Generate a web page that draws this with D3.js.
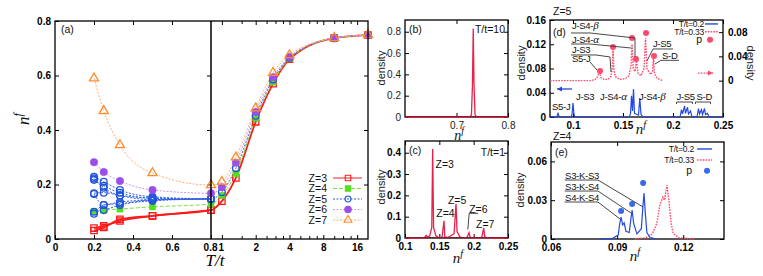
<!DOCTYPE html>
<html>
<head>
<meta charset="utf-8">
<script src="https://cdn.jsdelivr.net/npm/d3@7"></script>
<style>
body { margin: 0; background: #fff; }
svg { font-family: "Liberation Sans", Arial, sans-serif; }
.tk text { font-size: 10px; font-weight: bold; fill: #000; }
.tk.reg text { font-weight: normal; fill: #222; }
.tk line { stroke: #000; stroke-width: 1; }
.lab { font-size: 10.5px; fill: #111; }
.ann { font-size: 9.5px; fill: #111; letter-spacing: -0.3px; }
.leg { font-size: 8.5px; fill: #111; letter-spacing: -0.2px; }
</style>
</head>
<body>
<svg id="fig" width="763" height="276"></svg>
<script>
// ---------- panel (a): n^f against T/t ----------
const temps = [0.2, 0.25, 0.333, 0.5, 0.8, 1, 1.333, 2, 2.857, 4, 10, 20];
const nfZ3 = [0.040, 0.048, 0.066, 0.085, 0.106, 0.139, 0.224, 0.430, 0.570, 0.660, 0.737, 0.748];
const nfZ3low = [0.031, 0.042, 0.072, 0.085, 0.106];
const nfZ4 = [0.100, 0.106, 0.110, 0.118, 0.128, 0.160, 0.240, 0.444, 0.576, 0.662, 0.737, 0.748];
const nfZ5 = [0.168, 0.170, 0.160, 0.150, 0.147, 0.172, 0.260, 0.452, 0.585, 0.665, 0.737, 0.748];
const nfZ5low = [
  [0.228, 0.210, 0.180, 0.155, 0.147],
  [0.217, 0.195, 0.170, 0.150, 0.147],
  [0.222, 0.188, 0.160, 0.145, 0.147],
  [0.165, 0.125, 0.136, 0.143, 0.147],
  [0.100, 0.106, 0.125, 0.140, 0.147],
  [0.093, 0.125, 0.130, 0.143, 0.147]
];
const nfZ6 = [0.282, 0.246, 0.213, 0.180, 0.168, 0.190, 0.280, 0.466, 0.594, 0.668, 0.737, 0.748];
const nfZ7 = [0.590, 0.470, 0.345, 0.242, 0.198, 0.210, 0.300, 0.480, 0.610, 0.675, 0.738, 0.749];
const zLabels = ["Z=3", "Z=4", "Z=5", "Z=6", "Z=7"];
const linTicks = [0, 0.2, 0.4, 0.6];
const logMajor = [0.8, 1, 2, 4, 8, 16];
const logMinor = [1.5, 2.5, 3, 3.5, 5, 6, 7, 10, 12, 14];

// ---------- panel (b): T/t=10 ----------
const densB = [[0.6, 0], [0.726, 0], [0.729, 0.02], [0.731, 0.3], [0.7325, 0.83], [0.734, 0.3], [0.736, 0.02], [0.739, 0], [0.8, 0]];

// ---------- panel (c): T/t=1 ----------
const densC = [[0.1, 0], [0.128, 0], [0.131, 0.012], [0.133, 0.003], [0.136, 0.01], [0.139, 0.05], [0.1403, 0.418],
  [0.1416, 0.05], [0.145, 0.01], [0.148, 0.004], [0.151, 0], [0.154, 0.005], [0.1568, 0.081], [0.158, 0.005],
  [0.163, 0.003], [0.1715, 0.02], [0.1743, 0.16], [0.1758, 0.03], [0.18, 0.004], [0.188, 0], [0.1905, 0.004],
  [0.1932, 0.025], [0.1948, 0.004], [0.199, 0], [0.209, 0], [0.212, 0.005], [0.2146, 0.047], [0.2162, 0.005],
  [0.22, 0], [0.25, 0]];
const peaksC = [["Z=3", 0.1445, 0.345], ["Z=4", 0.1455, 0.115], ["Z=5", 0.1625, 0.177], ["Z=6", 0.1935, 0.136], ["Z=7", 0.2035, 0.066]];

// ---------- panel (d): Z=5 ----------
const densD02 = [[0.077, 0], [0.083, 0], [0.084, 0.0015], [0.085, 0.006], [0.086, 0.0015], [0.087, 0], [0.098, 0],
  [0.099, 0.004], [0.100, 0.023], [0.101, 0.004], [0.102, 0], [0.156, 0], [0.1575, 0.005], [0.1585, 0.035],
  [0.1595, 0.01], [0.1605, 0.046], [0.1615, 0.006], [0.1655, 0.003], [0.1668, 0.031], [0.168, 0.004], [0.170, 0],
  [0.207, 0], [0.2085, 0.012], [0.2095, 0.005], [0.2115, 0.018], [0.2125, 0.006], [0.2145, 0.016], [0.2155, 0.005],
  [0.2175, 0.01], [0.219, 0], [0.224, 0], [0.2255, 0.014], [0.2265, 0.005], [0.2285, 0.012], [0.2295, 0.004],
  [0.2315, 0.014], [0.2325, 0.004], [0.2345, 0.006], [0.236, 0], [0.25, 0]];
const densD033 = [[0.077, 0], [0.118, 0], [0.122, 0.002], [0.124, 0.005], [0.1262, 0.014], [0.128, 0.005],
  [0.131, 0.002], [0.135, 0.002], [0.138, 0.007], [0.1392, 0.02], [0.140, 0.054], [0.1408, 0.02], [0.142, 0.007],
  [0.147, 0.002], [0.152, 0.003], [0.156, 0.008], [0.158, 0.025], [0.159, 0.06], [0.1602, 0.02], [0.162, 0.015],
  [0.1635, 0.033], [0.165, 0.012], [0.168, 0.008], [0.171, 0.02], [0.1725, 0.07], [0.174, 0.02], [0.1775, 0.01],
  [0.1795, 0.015], [0.1805, 0.038], [0.1815, 0.012], [0.184, 0.004], [0.188, 0.001], [0.19, 0]];
const probD = [[0.127, 0.0158], [0.140, 0.0554], [0.159, 0.0703], [0.163, 0.0356], [0.173, 0.0785], [0.181, 0.0406]];

// ---------- panel (e): Z=4 ----------
const densE02 = [[0.082, 0], [0.088, 0.0005], [0.0905, 0.003], [0.0912, 0.012], [0.0918, 0.017], [0.0925, 0.011],
  [0.0932, 0.0125], [0.094, 0.006], [0.0955, 0.005], [0.0962, 0.015], [0.0968, 0.0224], [0.0975, 0.012],
  [0.099, 0.004], [0.101, 0.008], [0.1017, 0.025], [0.1022, 0.0356], [0.1028, 0.02], [0.1035, 0.005],
  [0.105, 0.001], [0.108, 0]];
const densE033 = [[0.098, 0], [0.103, 0.001], [0.106, 0.004], [0.108, 0.012], [0.1095, 0.027], [0.1108, 0.0325],
  [0.1115, 0.03], [0.1126, 0.0417], [0.1135, 0.03], [0.1145, 0.012], [0.1155, 0.004], [0.118, 0.001], [0.125, 0]];
const probE = [[0.0918, 0.0216], [0.0968, 0.0271], [0.1018, 0.0433]];
const labelsE = ["S3-K-S3", "S3-K-S4", "S4-K-S4"];

const svg = d3.select("#fig");

function frame(x, y) {
  const [x0, x1] = x.range(), [y1, y0] = y.range();
  svg.append("rect").attr("x", x0).attr("y", y0).attr("width", x1 - x0).attr("height", y1 - y0)
    .attr("fill", "none").attr("stroke", "#000").attr("stroke-width", 1.3);
}

function axis(gen, tx, ty, cls) {
  const g = svg.append("g").attr("class", cls || "tk").attr("transform", `translate(${tx},${ty})`).call(gen);
  g.select(".domain").remove();
  return g;
}

// ticks on all four sides, labels on the chosen ones
function boxAxes(x, y, xt, yt, opt) {
  opt = opt || {};
  const [x0, x1] = x.range(), [y1, y0] = y.range();
  const cls = opt.reg ? "tk reg" : "tk";
  axis(d3.axisBottom(x).tickValues(xt).tickSize(-4).tickPadding(5).tickFormat(d => d), 0, y1, cls);
  axis(d3.axisTop(x).tickValues(xt).tickSize(-4).tickFormat(""), 0, y0, cls);
  axis(d3.axisLeft(y).tickValues(yt).tickSize(-4).tickPadding(4).tickFormat(d => d), x0, 0, cls);
  if (!opt.noRight) axis(d3.axisRight(y).tickValues(yt).tickSize(-4).tickFormat(""), x1, 0, cls);
  frame(x, y);
}

function nfLabel(x, y, size, rot) {
  const t = svg.append("text").attr("transform", `translate(${x},${y}) rotate(${rot || 0})`)
    .attr("text-anchor", "middle").attr("font-family", "Liberation Serif, serif")
    .attr("font-style", "italic").attr("font-size", size).attr("fill", "#111");
  t.append("tspan").text("n");
  t.append("tspan").attr("dy", -size * 0.4).attr("font-size", size * 0.7).text("f");
}

function text(x, y, s, opt) {
  opt = opt || {};
  return svg.append("text").attr("x", x).attr("y", y).attr("dy", "0.35em")
    .attr("class", opt.cls || "lab").attr("text-anchor", opt.anchor || "start")
    .attr("font-size", opt.size || null).text(s);
}

function density(g, rot) {
  return svg.append("text").attr("transform", `translate(${g[0]},${g[1]}) rotate(${rot})`)
    .attr("text-anchor", "middle").attr("dy", "0.35em").attr("font-size", 11).attr("fill", "#222").text("density");
}

function greekLabel(x, y, base, greek, size) {
  const t = svg.append("text").attr("x", x).attr("y", y).attr("dy", "0.35em").attr("class", "ann")
    .attr("font-size", size || null);
  t.append("tspan").text(base);
  if (greek) t.append("tspan").attr("font-family", "Liberation Serif, serif").attr("font-style", "italic")
    .attr("font-size", 11).text(greek);
}

function curve(data, x, y, color, width, dash) {
  svg.append("path").datum(data)
    .attr("d", d3.line().x(d => x(d[0])).y(d => y(d[1])))
    .attr("fill", "none").attr("stroke", color).attr("stroke-width", width)
    .attr("stroke-dasharray", dash || null);
}

function leader(pts, x, y) {
  svg.append("path").datum(pts)
    .attr("d", d3.line().x(d => x(d[0])).y(d => y(d[1])))
    .attr("fill", "none").attr("stroke", "#333").attr("stroke-width", 0.9);
}

function arrow(x0, x1, yv, color, dash) {
  svg.append("line").attr("x1", x0).attr("x2", x1).attr("y1", yv).attr("y2", yv)
    .attr("stroke", color).attr("stroke-width", 1.3).attr("stroke-dasharray", dash || null);
  const dir = Math.sign(x1 - x0);
  svg.append("path").attr("d", `M${x1},${yv}l${-dir * 5},-2.5l0,5z`).attr("fill", color);
}

// small legend box: line sample for the two temperatures and a dot for p
function tempLegend(x, y, xs, ys, dotColor) {
  const rows = [["T/t=0.2", "#2448e0", null], ["T/t=0.33", "#ff4a6e", "1.6,1.2"]];
  rows.forEach((r, i) => {
    text(x(xs[0]), y(ys[i]), r[0], { anchor: "end", cls: "leg" });
    svg.append("line").attr("x1", x(xs[1])).attr("x2", x(xs[2])).attr("y1", y(ys[i])).attr("y2", y(ys[i]))
      .attr("stroke", r[1]).attr("stroke-width", 1.4).attr("stroke-dasharray", r[2]);
  });
  text(x(xs[0]) - 2, y(ys[2]), "p", { anchor: "end", size: 10 });
  svg.append("circle").attr("cx", x(xs[3])).attr("cy", y(ys[2])).attr("r", 3).attr("fill", dotColor);
}

// ======================= panel (a) =======================
const xLin = d3.scaleLinear().domain([0, 0.8]).range([55, 211]);
const xLog = d3.scaleLog().domain([0.8, 20]).range([211, 368]);
const xA = t => (t <= 0.8 ? xLin(t) : xLog(t));
const yA = d3.scaleLinear().domain([0, 0.8]).range([239, 21]);

const series = [
  { vals: nfZ3, low: [nfZ3low], color: "#ff1a1a", line: "#ff1a1a", width: 1.8, dash: null, sym: d3.symbolSquare, size: 40, fill: "none" },
  { vals: nfZ4, low: [], color: "#55dd22", line: "#7fe044", width: 1, dash: "4,2", sym: d3.symbolSquare, size: 38, fill: "#55dd22" },
  { vals: nfZ5, low: nfZ5low, color: "#2255dd", line: "#2f5fe0", width: 1, dash: "2,1.5", sym: d3.symbolCircle, size: 36, fill: "none" },
  { vals: nfZ6, low: [], color: "#9b4fe8", line: "#c39af2", width: 1, dash: "2,1.5", sym: d3.symbolCircle, size: 44, fill: "#9b4fe8" },
  { vals: nfZ7, low: [], color: "#ff8a2a", line: "#ffb07a", width: 1, dash: "2,1.5", sym: d3.symbolTriangle, size: 36, fill: "none" }
];

axis(d3.axisBottom(xLin).tickValues(linTicks).tickSize(-4).tickPadding(5).tickFormat(d => d), 0, 239);
axis(d3.axisTop(xLin).tickValues(linTicks.slice(1)).tickSize(-4).tickFormat(""), 0, 21);
const logAx = axis(d3.axisBottom(xLog).tickValues(logMajor).tickSize(-4).tickPadding(5).tickFormat(d => d), 0, 239);
// "0.8" and "1" sit side by side, as "0.81"
logAx.selectAll(".tick text").filter(d => d === 0.8).attr("text-anchor", "end").attr("x", 6);
logAx.selectAll(".tick text").filter(d => d === 1).attr("text-anchor", "start").attr("x", -4);
axis(d3.axisBottom(xLog).tickValues(logMinor).tickSize(-3).tickFormat(""), 0, 239);
axis(d3.axisTop(xLog).tickValues(logMajor.slice(1)).tickSize(-4).tickFormat(""), 0, 21);
axis(d3.axisTop(xLog).tickValues(logMinor).tickSize(-3).tickFormat(""), 0, 21);
axis(d3.axisLeft(yA).tickValues([0, 0.2, 0.4, 0.6, 0.8]).tickSize(-4).tickPadding(4).tickFormat(d => d), 55, 0);
axis(d3.axisLeft(yA).tickValues([0.2, 0.4, 0.6]).tickSize(4).tickFormat(""), 211, 0);
axis(d3.axisRight(yA).tickValues([0.2, 0.4, 0.6]).tickSize(-4).tickFormat(""), 368, 0);

const lineA = d3.line().x(d => xA(d[0])).y(d => yA(d[1])).curve(d3.curveMonotoneX);
series.forEach(s => {
  const paths = [s.vals].concat(s.low).map(v => v.map((n, i) => [temps[i], n]));
  paths.forEach(p => {
    svg.append("path").datum(p).attr("d", lineA).attr("fill", "none")
      .attr("stroke", s.line).attr("stroke-width", s.width).attr("stroke-dasharray", s.dash);
  });
});
series.forEach(s => {
  const pts = [s.vals].concat(s.low).flatMap(v => v.map((n, i) => [temps[i], n]));
  svg.append("g").selectAll("path").data(pts).join("path")
    .attr("d", d3.symbol(s.sym, s.size))
    .attr("transform", d => `translate(${xA(d[0])},${yA(d[1])})`)
    .attr("fill", s.fill).attr("stroke", s.color).attr("stroke-width", s.fill === "none" ? 1.3 : 0.5);
});

svg.append("rect").attr("x", 55).attr("y", 21).attr("width", 313).attr("height", 218)
  .attr("fill", "none").attr("stroke", "#000").attr("stroke-width", 1.3);
svg.append("line").attr("x1", xA(0.8)).attr("x2", xA(0.8)).attr("y1", 21).attr("y2", 239)
  .attr("stroke", "#000").attr("stroke-width", 1.5);

// legend
const yLeg = d3.scalePoint().domain(zLabels).range([178, 220]);
series.forEach((s, i) => {
  const yy = yLeg(zLabels[i]);
  text(327, yy, zLabels[i], { anchor: "end", size: 11 });
  svg.append("line").attr("x1", 333).attr("x2", 362).attr("y1", yy).attr("y2", yy)
    .attr("stroke", s.line).attr("stroke-width", 1).attr("stroke-dasharray", s.dash);
  svg.append("path").attr("d", d3.symbol(s.sym, s.size * 0.75)).attr("transform", `translate(348,${yy})`)
    .attr("fill", s.fill).attr("stroke", s.color).attr("stroke-width", 1.1);
});

text(61, 29, "(a)", { size: 12 }).attr("fill", "#1d2a55");
nfLabel(29, 119, 17, -90);
svg.append("text").attr("x", 215).attr("y", 266).attr("text-anchor", "middle")
  .attr("font-family", "Liberation Serif, serif").attr("font-style", "italic").attr("font-size", 17).text("T/t");

// ======================= panel (b) =======================
const xB = d3.scaleLinear().domain([0.6, 0.8]).range([405, 508]);
const yB = d3.scaleLinear().domain([0, 0.91]).range([117, 20]);
boxAxes(xB, yB, [0.7, 0.8], [0, 0.2, 0.4, 0.6, 0.8], { reg: true });
curve(densB, xB, yB, "#e8204a", 1.3);
svg.append("line").attr("x1", 405).attr("x2", 508).attr("y1", 116.5).attr("y2", 116.5).attr("stroke", "#8a1a2a").attr("stroke-width", 1.2);
text(409, 29, "(b)", { size: 11 });
text(505, 29, "T/t=10", { anchor: "end", size: 10 });
density([381, 68], -90);
nfLabel(459, 140, 14);

// ======================= panel (c) =======================
const xC = d3.scaleLinear().domain([0.1, 0.25]).range([405, 508]);
const yC = d3.scaleLinear().domain([0, 0.455]).range([238, 141]);
boxAxes(xC, yC, [0.1, 0.15, 0.2, 0.25], [0, 0.1, 0.2, 0.3, 0.4]);
curve(densC, xC, yC, "#e8204a", 1.3);
svg.append("line").attr("x1", 405).attr("x2", 508).attr("y1", 237.5).attr("y2", 237.5).attr("stroke", "#8a1a2a").attr("stroke-width", 1.2);
peaksC.forEach(p => text(xC(p[1]), yC(p[2]), p[0], { size: 10 }));
leader([[0.2065, 0.116], [0.1935, 0.116], [0.1915, 0.04]], xC, yC);
text(409, 150, "(c)", { size: 11 });
text(505, 152, "T/t=1", { anchor: "end", size: 10 });
density([381, 187], -90);
nfLabel(458, 263, 15);

// ======================= panel (d) =======================
const xD = d3.scaleLinear().domain([0.077, 0.25]).range([550, 723]);
const yDL = d3.scaleLinear().domain([0, 0.16]).range([117, 20]);
const yDR = d3.scaleLinear().domain([-0.06, 0.1]).range([117, 20]);
boxAxes(xD, yDL, [0.1, 0.15, 0.2, 0.25], [0, 0.04, 0.08, 0.12, 0.16], { noRight: true });
axis(d3.axisRight(yDR).tickValues([0, 0.04, 0.08]).tickSize(-4).tickPadding(5).tickFormat(d => d), 723, 0);
curve(densD033, xD, yDR, "#ff4a6e", 1.4, "1.6,1.2");
curve(densD02, xD, yDL, "#2448e0", 1.2);
svg.append("g").selectAll("circle").data(probD).join("circle")
  .attr("cx", d => xD(d[0])).attr("cy", d => yDR(d[1])).attr("r", 3).attr("fill", "#ff4a6e");

// upper labels (T/t=0.33)
greekLabel(xD(0.099), yDL(0.1501), "J-S4-", "β");
greekLabel(xD(0.099), yDL(0.1278), "J-S4-", "α");
greekLabel(xD(0.099), yDL(0.1105), "J-S3");
greekLabel(xD(0.099), yDL(0.0965), "S5-J");
leader([[0.098, 0.1386], [0.117, 0.1386], [0.162, 0.1303], [0.162, 0.099]], xD, yDL);
leader([[0.098, 0.1204], [0.117, 0.1204], [0.158, 0.1138]], xD, yDL);
leader([[0.098, 0.1023], [0.123, 0.1023], [0.137, 0.099], [0.138, 0.0742]], xD, yDL);
leader([[0.117, 0.0907], [0.124, 0.0775]], xD, yDL);
greekLabel(xD(0.18), yDL(0.1205), "J-S5");
leader([[0.2, 0.1122], [0.18, 0.1122], [0.174, 0.0924]], xD, yDL);
greekLabel(xD(0.189), yDL(0.1015), "S-D");
leader([[0.206, 0.0935], [0.188, 0.0935], [0.182, 0.0874]], xD, yDL);

// lower labels (T/t=0.2)
greekLabel(xD(0.079), yDL(0.0165), "S5-J");
greekLabel(xD(0.103), yDL(0.033), "J-S3");
greekLabel(xD(0.127), yDL(0.033), "J-S4-", "α");
greekLabel(xD(0.166), yDL(0.033), "J-S4-", "β");
greekLabel(xD(0.2035), yDL(0.033), "J-S5", null, 9);
greekLabel(xD(0.2235), yDL(0.033), "S-D", null, 9);
leader([[0.2035, 0.0215], [0.2035, 0.0247], [0.2195, 0.0247], [0.2195, 0.0215]], xD, yDL);
leader([[0.2225, 0.0215], [0.2225, 0.0247], [0.2375, 0.0247], [0.2375, 0.0215]], xD, yDL);
arrow(xD(0.099), xD(0.084), yDL(0.0462), "#2448e0");
arrow(xD(0.225), xD(0.240), yDR(0.0125), "#ff4a6e", "1.6,1.2");

tempLegend(xD, yDL, [0.231, 0.232, 0.245, 0.237], [0.1535, 0.1405, 0.1275], "#ff4a6e");

text(553, 32, "(d)", { size: 12 });
text(553, 11, "Z=5", { size: 11 });
density([521, 63], -90);
density([751, 63], 90);
nfLabel(641, 134, 15);

// ======================= panel (e) =======================
const xE = d3.scaleLinear().domain([0.06, 0.1385]).range([551, 724]);
const yE = d3.scaleLinear().domain([0, 0.075]).range([239, 142]);
boxAxes(xE, yE, [0.06, 0.09, 0.12], [0, 0.03, 0.06]);
curve(densE033, xE, yE, "#ff4a6e", 1.4, "1.6,1.2");
curve(densE02, xE, yE, "#2448e0", 1.2);
svg.append("g").selectAll("circle").data(probE).join("circle")
  .attr("cx", d => xE(d[0])).attr("cy", d => yE(d[1])).attr("r", 3).attr("fill", "#3a6ae8");

const labY = [0.0487, 0.0402, 0.0317];
const lineEnds = [[0.1018, 0.0247], [0.0963, 0.0201], [0.0913, 0.0155]];
labelsE.forEach((s, i) => {
  greekLabel(xE(0.0664), yE(labY[i]), s);
  leader([[0.0662, labY[i] - 0.0031], [0.0813, labY[i] - 0.0031], lineEnds[i]], xE, yE);
});

tempLegend(xE, yE, [0.1249, 0.1263, 0.1331, 0.1308], [0.0696, 0.0611, 0.0528], "#3a6ae8");

text(555, 152, "(e)", { size: 12 });
text(553, 136, "Z=4", { size: 11 });
density([520, 190], -90);
nfLabel(635, 261, 15);
</script>
</body>
</html>
